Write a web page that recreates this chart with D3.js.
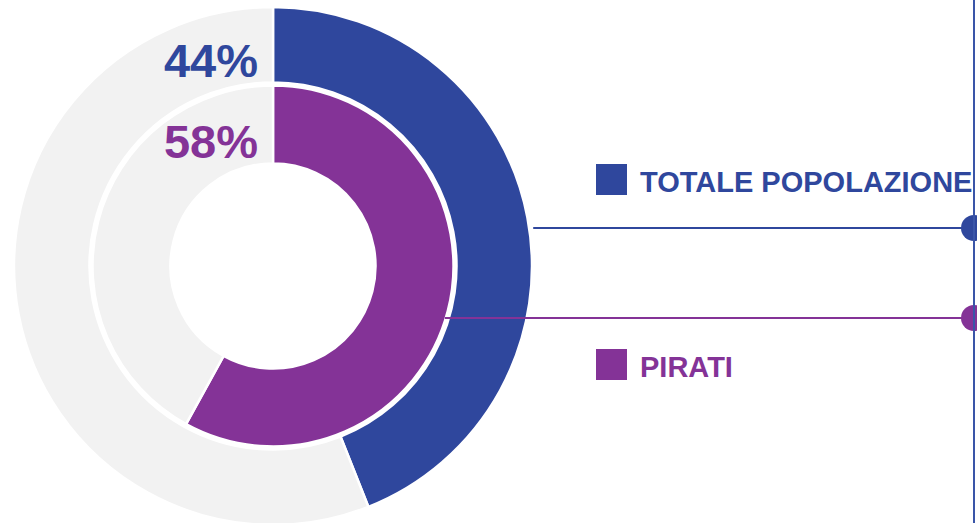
<!DOCTYPE html>
<html><head><meta charset="utf-8">
<script src="https://cdn.jsdelivr.net/npm/d3@7"></script>
<style>html,body{margin:0;padding:0;background:#fff;overflow:hidden}svg{display:block}</style>
</head><body>
<svg id="chart" width="977" height="523"></svg>
<script>
const categories = ["TOTALE POPOLAZIONE", "PIRATI"];
const values = [44, 58];
const labels = ["44%", "58%"];
const colors = ["#2F479D", "#843397"];
const restColor = "#F2F2F2";

const svg = d3.select("#chart");
const W = 977, H = 523;
const cx = 273, cy = 266;
const rings = [{inner: 183.5, outer: 259}, {inner: 102.5, outer: 180.5}];

const pie = d3.pie().sort(null).value(d => d);
const g = svg.append("g").attr("transform", `translate(${cx},${cy})`);

values.forEach((v, i) => {
  const arc = d3.arc().innerRadius(rings[i].inner).outerRadius(rings[i].outer);
  const arcs = pie([v, 100 - v]);
  g.selectAll(null).data(arcs).enter().append("path")
    .attr("d", arc)
    .attr("fill", (d, j) => j === 0 ? colors[i] : restColor)
    .attr("stroke", "#fff").attr("stroke-width", 2.5);
});

// percentage labels
values.forEach((v, i) => {
  g.append("text")
    .attr("x", -15)
    .attr("y", -rings[i].inner - 6)
    .attr("text-anchor", "end")
    .attr("font-family", "'Liberation Sans', Arial, sans-serif")
    .attr("font-weight", "bold")
    .attr("font-size", 47)
    .attr("fill", colors[i])
    .text(labels[i]);
});

// connector lines
const lineYs = [228, 318];
const vx = 974;
lineYs.forEach((y, i) => {
  const r = rings[i].outer;
  const dy = y - cy;
  const x0 = cx + Math.sqrt(r * r - dy * dy) + (i === 0 ? 4 : -1);
  svg.append("line").attr("x1", x0).attr("x2", vx).attr("y1", y).attr("y2", y)
    .attr("stroke", colors[i]).attr("stroke-width", 2);
  svg.append("circle").attr("cx", vx).attr("cy", y).attr("r", 13).attr("fill", colors[i]);
});

// legend
const legendY = [164, 349];
categories.forEach((c, i) => {
  svg.append("rect").attr("x", 596).attr("y", legendY[i]).attr("width", 31).attr("height", 31)
    .attr("fill", colors[i]);
  svg.append("text").attr("x", 640).attr("y", legendY[i] + 28)
    .attr("font-family", "'Liberation Sans', Arial, sans-serif")
    .attr("font-weight", "bold").attr("font-size", 29)
    .attr("fill", colors[i]).text(c);
});

// vertical line
svg.append("line").attr("x1", vx).attr("x2", vx).attr("y1", 0).attr("y2", H)
  .attr("stroke", "#3A55A8").attr("stroke-width", 2);
</script>
</body></html>
